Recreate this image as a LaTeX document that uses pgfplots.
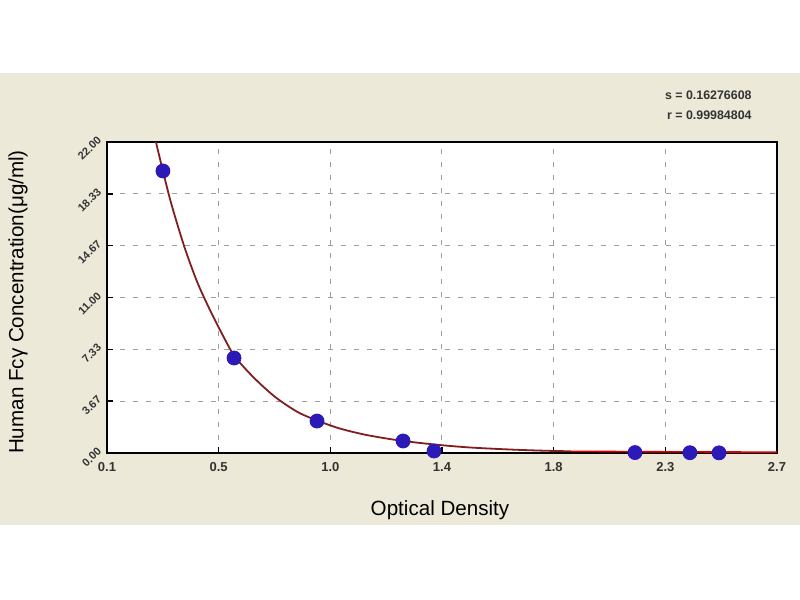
\documentclass[border=0pt]{standalone}
\usepackage{pgfplots}
\pgfplotsset{compat=1.18}
\usepackage{fontspec}
\setmainfont{Liberation Sans}
\definecolor{xpbeige}{HTML}{ECE9D8}
\definecolor{ptblue}{rgb}{0.17,0.10,0.72}
\definecolor{curvedark}{rgb}{0.50,0.12,0.12}
\definecolor{gridgray}{rgb}{0.62,0.62,0.62}
\begin{document}
\begin{tikzpicture}[x=1pt,y=1pt]
\useasboundingbox (-53.5,-73.5) rectangle (346.5,226.5);
\fill[white] (-53.5,-73.5) rectangle (346.5,226.5);
\fill[xpbeige] (-53.5,-36) rectangle (346.5,190);
\begin{axis}[
  scale only axis, width=335pt, height=155.5pt,
  xmin=0.1, xmax=2.7, ymin=0, ymax=22,
  axis background/.style={fill=white},
  axis line style={black, line width=0.9pt},
  xtick={0.1,0.53333,0.96667,1.4,1.83333,2.26667,2.7},
  xticklabels={0.1,0.5,1.0,1.4,1.8,2.3,2.7},
  ytick={0,3.66667,7.33333,11,14.66667,18.33333,22},
  yticklabels={0.00,3.67,7.33,11.00,14.67,18.33,22.00},
  minor x tick num=3, minor y tick num=3,
  xtick pos=left, ytick pos=left,
  tick align=inside,
  major tick length=3pt, minor tick length=2.2pt,
  tick style={black, line width=0.7pt},
  grid=major,
  major grid style={gridgray, dash pattern=on 2.5pt off 4pt, line width=0.5pt},
  xticklabel style={yshift=-1pt, font=\fontsize{6.5}{7}\selectfont\bfseries, text=black!80},
  yticklabel style={rotate=45, anchor=south east, xshift=2pt, yshift=-1.5pt,
    font=\fontsize{5.5}{6}\selectfont\bfseries, text=black!80},
  /pgf/number format/assume math mode=true,
  clip=false,
]
\addplot[curvedark, line width=0.9pt, smooth, no marks] coordinates {
 (0.29,22.0) (0.317,19.95) (0.35,17.6) (0.40,14.6) (0.45,12.1) (0.50,10.1)
 (0.55,8.3) (0.593,6.9) (0.65,5.7) (0.70,4.8) (0.75,4.0) (0.80,3.35)
 (0.85,2.8) (0.915,2.3) (1.00,1.75) (1.10,1.3) (1.20,0.98) (1.249,0.86)
 (1.30,0.74) (1.40,0.55) (1.50,0.40) (1.60,0.30) (1.70,0.22) (1.80,0.16)
 (1.90,0.12)
};
\addplot[red!85!black, line width=0.8pt, no marks] coordinates {
 (1.90,0.12) (2.3,0.08) (2.7,0.06)
};
\addplot[only marks, mark=*, mark size=3.5pt, mark options={fill=ptblue, draw=ptblue}] coordinates {
 (0.317,19.95) (0.593,6.72) (0.915,2.26) (1.249,0.85) (1.369,0.14)
 (2.149,0.03) (2.362,0.02) (2.475,0.01)
};
\end{axis}
\node[anchor=center, font=\fontsize{10.3}{12}\selectfont] at (166.5,-28.5) {Optical Density};
\node[anchor=center, rotate=90, font=\fontsize{10.3}{12}\selectfont] at (-44.5,75.5) {Human Fcγ Concentration(μg/ml)};
\node[anchor=east, inner sep=0pt, font=\fontsize{6.2}{8}\selectfont\bfseries, text=black!80] at (322.5,179) {s = 0.16276608};
\node[anchor=east, inner sep=0pt, font=\fontsize{6.2}{8}\selectfont\bfseries, text=black!80] at (322.5,169) {r = 0.99984804};
\end{tikzpicture}
\end{document}
